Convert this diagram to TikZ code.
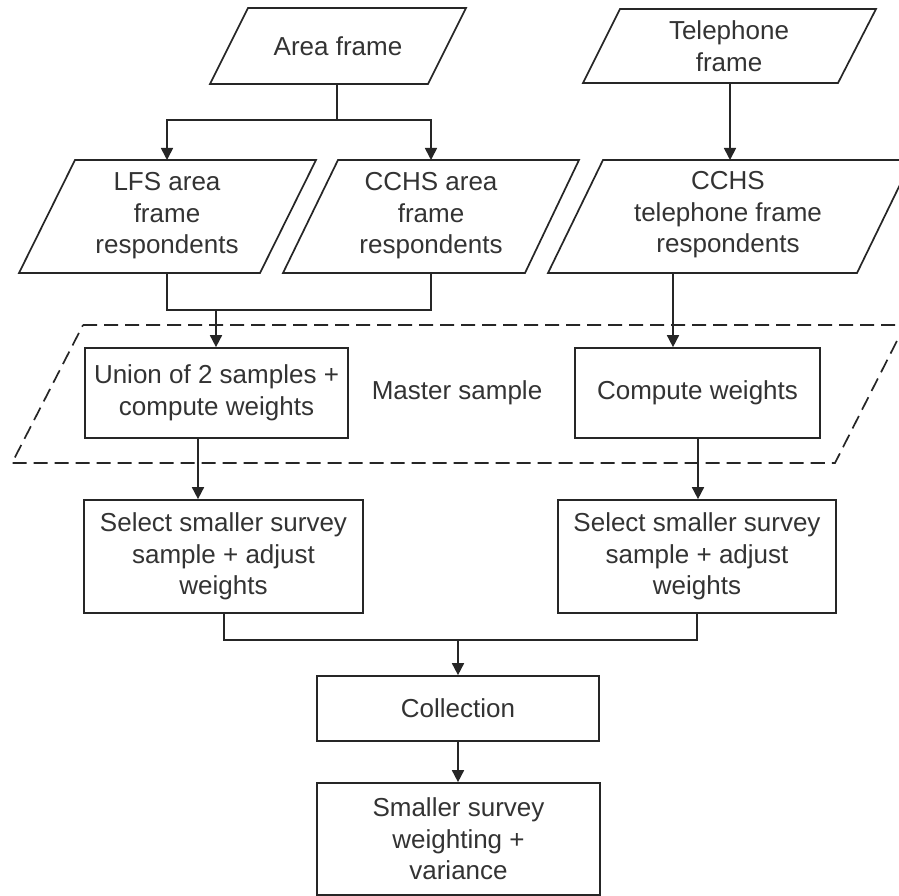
\documentclass[tikz,border=0pt]{standalone}
\usepackage{fontspec}
\setmainfont{Liberation Sans}
\usetikzlibrary{arrows.meta,calc}
\definecolor{ln}{HTML}{262626}
\definecolor{tx}{HTML}{333333}
\begin{document}
\begin{tikzpicture}[x=1pt,y=-1pt,
  shapeline/.style={draw=ln,line width=1.7pt,line join=miter},
  txt/.style={text=tx,align=center,inner sep=0pt,font=\fontsize{26}{31.5}\selectfont},
  boxnode/.style={shapeline,txt,rectangle,inner sep=0pt},
  conn/.style={draw=ln,line width=1.7pt},
  arr/.style={conn,-{Triangle[length=12pt,width=12pt]}},
  dashedframe/.style={draw=ln,line width=1.7pt,dash pattern=on 14pt off 7pt}]
\useasboundingbox (0,0) rectangle (899,896);
\fill[white] (0,0) rectangle (899,896);

% parallelograms (input frames)
\draw[shapeline] (248,8) -- (466,8) -- (428,84) -- (210,84) -- cycle;
\node[txt] (area) at (338,46) {Area frame};

\draw[shapeline] (620,9) -- (876,9) -- (838,83) -- (583,83) -- cycle;
\node[txt] (tel) at (729,46) {Telephone\\frame};

\draw[shapeline] (75,160) -- (316,160) -- (260,273) -- (19,273) -- cycle;
\node[txt] (lfs) at (167,216) {LFS area\\frame\\respondents};

\draw[shapeline] (338,160) -- (579,160) -- (525,273) -- (283,273) -- cycle;
\node[txt] (cchsa) at (431,216) {CCHS area\\frame\\respondents};

\draw[shapeline] (603,160) -- (912,160) -- (857,273) -- (548,273) -- cycle;
\node[txt] (cchst) at (728,215) {CCHS\\telephone frame\\respondents};

% master sample dashed frame
\draw[dashedframe] (83,325) -- (905,325) -- (835,463) -- (12,463) -- cycle;
\node[txt] (master) at (457,393) {Master sample};

% process boxes
\node[boxnode,minimum width=263pt,minimum height=90pt] (union) at (216.5,393) {Union of 2 samples +\\compute weights};
\node[boxnode,minimum width=245pt,minimum height=90pt] (comp) at (697.5,393) {Compute weights};
\node[boxnode,minimum width=279pt,minimum height=113pt] (selL) at (223.5,556.5) {Select smaller survey\\sample + adjust\\weights};
\node[boxnode,minimum width=278pt,minimum height=113pt] (selR) at (697,556.5) {Select smaller survey\\sample + adjust\\weights};
\node[boxnode,minimum width=282pt,minimum height=65pt] (coll) at (458,708.5) {Collection};
\node[boxnode,minimum width=283pt,minimum height=112pt] (small) at (458.5,839) {Smaller survey\\weighting +\\variance};

% connector points
\coordinate (areab) at (337,84);
\coordinate (s1) at (337,120);
\coordinate (lfst) at (167,160);
\coordinate (cchsat) at (431,160);
\coordinate (telb) at (730,83);
\coordinate (cchstt) at (730,160);
\coordinate (lfsb) at (167,273);
\coordinate (cchsab) at (431,273);
\coordinate (j1) at (216,310);
\coordinate (cchstb) at (673,273);
\coordinate (j2) at (458,640);

% connectors
\draw[conn] (areab) -- (s1);
\draw[arr] (s1) -- (s1 -| lfst) -- (lfst);
\draw[arr] (s1) -- (s1 -| cchsat) -- (cchsat);
\draw[arr] (telb) -- (cchstt);
\draw[conn] (lfsb) -- (lfsb |- j1) -- (cchsab |- j1) -- (cchsab);
\draw[arr] (j1) -- (j1 |- union.north);
\draw[arr] (cchstb) -- (cchstb |- comp.north);
\draw[arr] ([xshift=-18.5pt]union.south) -- ([xshift=-18.5pt]union.south |- selL.north);
\draw[arr] ([xshift=0.5pt]comp.south) -- ([xshift=0.5pt]comp.south |- selR.north);
\draw[conn] ([xshift=0.5pt]selL.south) -- ([xshift=0.5pt]selL.south |- j2) -- (selR.south |- j2) -- (selR.south);
\draw[arr] (j2) -- (j2 |- coll.north);
\draw[arr] (coll.south) -- (coll.south |- small.north);
\end{tikzpicture}
\end{document}
